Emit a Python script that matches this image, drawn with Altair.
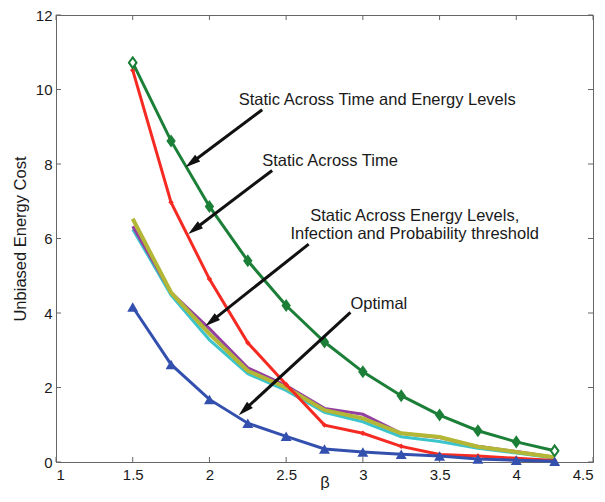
import math
import altair as alt
import pandas as pd

# ---------------- data ----------------
beta = [1.5, 1.75, 2.0, 2.25, 2.5, 2.75, 3.0, 3.25, 3.5, 3.75, 4.0, 4.25]
static_time_energy = [10.72, 8.62, 6.86, 5.4, 4.2, 3.22, 2.42, 1.78, 1.26, 0.84, 0.54, 0.3]
static_time = [10.52, 6.97, 4.91, 3.2, 2.08, 0.99, 0.77, 0.42, 0.2, 0.16, 0.1, 0.04]
optimal = [4.16, 2.62, 1.68, 1.04, 0.69, 0.35, 0.27, 0.21, 0.16, 0.08, 0.05, 0.02]
static_energy_purple = [6.33, 4.55, 3.58, 2.53, 2.05, 1.44, 1.28, 0.77, 0.66, 0.42, 0.28, 0.13]
static_energy_cyan = [6.25, 4.48, 3.28, 2.37, 1.92, 1.33, 1.08, 0.68, 0.55, 0.37, 0.24, 0.11]
static_energy_yellow = [6.53, 4.55, 3.44, 2.45, 2.0, 1.39, 1.17, 0.77, 0.67, 0.41, 0.27, 0.13]

x_ticks = [1, 1.5, 2, 2.5, 3, 3.5, 4, 4.5]
y_ticks = [0, 2, 4, 6, 8, 10, 12]

# annotation texts (baseline positions, data units)
ann_text = ["Static Across Time and Energy Levels", "Static Across Time",
            "Static Across Energy Levels,", "Infection and Probability threshold", "Optimal"]
ann_x = [2.191, 2.344, 3.338, 3.338, 2.919]
ann_y = [9.59, 7.94, 6.47, 5.98, 4.11]
ann_align = ["left", "left", "center", "center", "left"]

# arrows (tail -> tip, data units)
arrow_x_tail = [2.344, 2.409, 2.647, 2.919]
arrow_y_tail = [9.457, 7.826, 5.848, 4.019]
arrow_x_head = [1.844, 1.862, 1.974, 2.191]
arrow_y_head = [7.914, 6.123, 3.650, 1.257]

# ---------------- layout ----------------
W, H = 537, 447
XMIN, XMAX, YMIN, YMAX = 1.0, 4.5, 0.0, 12.0
PX_X = W / (XMAX - XMIN)
PX_Y = H / (YMAX - YMIN)
FONT = "Liberation Sans"

xs = alt.Scale(domain=[XMIN, XMAX], nice=False, zero=False)
ys = alt.Scale(domain=[YMIN, YMAX], nice=False, zero=False)


def enc(df_chart, xf="beta:Q", yf="cost:Q"):
    return df_chart.encode(x=alt.X(xf, scale=xs), y=alt.Y(yf, scale=ys))


def series_layers(values, color, width, shape=None, size=None):
    df = pd.DataFrame({"beta": beta, "cost": values})
    out = [enc(alt.Chart(df).mark_line(color=color, strokeWidth=width))]
    if shape:
        out.append(enc(alt.Chart(df).mark_point(shape=shape, size=size, filled=True,
                                                color=color, opacity=1)))
    return out


layers = []
axes_df = pd.DataFrame({"beta": [XMIN], "cost": [YMIN]})
axes = alt.Chart(axes_df).mark_point(opacity=0).encode(
    x=alt.X("beta:Q", scale=xs,
            axis=alt.Axis(title="β", values=x_ticks, format="~g", ticks=False,
                          labelPadding=5, titleY=25, titleBaseline="alphabetic",
                          grid=False)),
    y=alt.Y("cost:Q", scale=ys,
            axis=alt.Axis(title="Unbiased Energy Cost", values=y_ticks, ticks=False,
                          labelPadding=4, titlePadding=7, grid=False)),
)
layers.append(axes)

# inward ticks on all four sides
tl_y = 5 / PX_Y
tl_x = 5 / PX_X
xt = pd.DataFrame({"v": x_ticks})
yt = pd.DataFrame({"v": y_ticks})
tick_style = dict(color="#666", strokeWidth=1)
layers.append(alt.Chart(xt).mark_rule(**tick_style).encode(
    x=alt.X("v:Q", scale=xs), y=alt.datum(YMIN), y2=alt.datum(YMIN + tl_y)))
layers.append(alt.Chart(xt).mark_rule(**tick_style).encode(
    x=alt.X("v:Q", scale=xs), y=alt.datum(YMAX), y2=alt.datum(YMAX - tl_y)))
layers.append(alt.Chart(yt).mark_rule(**tick_style).encode(
    y=alt.Y("v:Q", scale=ys), x=alt.datum(XMIN), x2=alt.datum(XMIN + tl_x)))
layers.append(alt.Chart(yt).mark_rule(**tick_style).encode(
    y=alt.Y("v:Q", scale=ys), x=alt.datum(XMAX), x2=alt.datum(XMAX - tl_x)))

# series
GREEN = "#1c7f38"
DIAMOND = "M0,-1L0.72,0L0,1L-0.72,0Z"
layers += series_layers(static_energy_cyan, "#3cc4cc", 3)
layers += series_layers(static_energy_purple, "#9440a0", 3)
layers += series_layers(static_energy_yellow, "#b4b636", 4)
layers += series_layers(static_time, "#f52a22", 3, "diamond", 30)
layers += series_layers(static_time_energy, GREEN, 3, DIAMOND, 170)
# hollow end markers of the green series
ends = pd.DataFrame({"beta": [beta[0], beta[-1]],
                     "cost": [static_time_energy[0], static_time_energy[-1]]})
layers.append(enc(alt.Chart(ends).mark_point(shape=DIAMOND, size=110, filled=True,
                                             fill="white", stroke=GREEN, strokeWidth=2,
                                             opacity=1)))
layers += series_layers(optimal, "#3450ae", 3, "triangle-up", 120)

# annotation text
txt_df = pd.DataFrame({"x": ann_x, "y": ann_y, "t": ann_text, "a": ann_align})
for al in ["left", "center"]:
    sub = txt_df[txt_df["a"] == al]
    layers.append(alt.Chart(sub).mark_text(align=al, baseline="alphabetic", font=FONT,
                                           fontSize=16.5, color="#1a1a1a").encode(
        x=alt.X("x:Q", scale=xs), y=alt.Y("y:Q", scale=ys), text="t:N"))

# arrows
HEAD = 9.5  # px from tip to symbol centre
rows = []
for xt0, yt0, xh, yh in zip(arrow_x_tail, arrow_y_tail, arrow_x_head, arrow_y_head):
    dxp = (xh - xt0) * PX_X
    dyp = -(yh - yt0) * PX_Y
    L = math.hypot(dxp, dyp)
    ux, uy = dxp / L, dyp / L
    cx = xh - ux * HEAD / PX_X
    cy = yh + uy * HEAD / PX_Y
    ang = math.degrees(math.atan2(dxp, -dyp)) % 360
    rows.append({"x0": xt0, "y0": yt0, "cx": cx, "cy": cy, "ang": ang})
arr_df = pd.DataFrame(rows)
layers.append(alt.Chart(arr_df).mark_rule(color="#111", strokeWidth=3).encode(
    x=alt.X("x0:Q", scale=xs), y=alt.Y("y0:Q", scale=ys), x2="cx:Q", y2="cy:Q"))
layers.append(alt.Chart(arr_df).mark_point(
    shape="M0,-1L0.45,0.6L-0.45,0.6Z", size=(2 * HEAD) ** 2, filled=True,
    color="#111", opacity=1).encode(
    x=alt.X("cx:Q", scale=xs), y=alt.Y("cy:Q", scale=ys),
    angle=alt.Angle("ang:Q", scale=None)))

chart = alt.layer(*layers).properties(
    width=W, height=H,
    autosize=alt.AutoSizeParams(type="none"),
    padding={"left": 48, "top": 7, "right": 4, "bottom": 28},
).configure_view(stroke="#666", strokeWidth=1).configure_axis(
    labelFont=FONT, titleFont=FONT, labelFontSize=15, titleFontSize=16.5,
    titleFontWeight="normal", labelColor="#1a1a1a", titleColor="#1a1a1a",
    domainColor="#666", domainWidth=1,
)

chart.save("out.html", embed_options={"renderer": "svg", "actions": False})
